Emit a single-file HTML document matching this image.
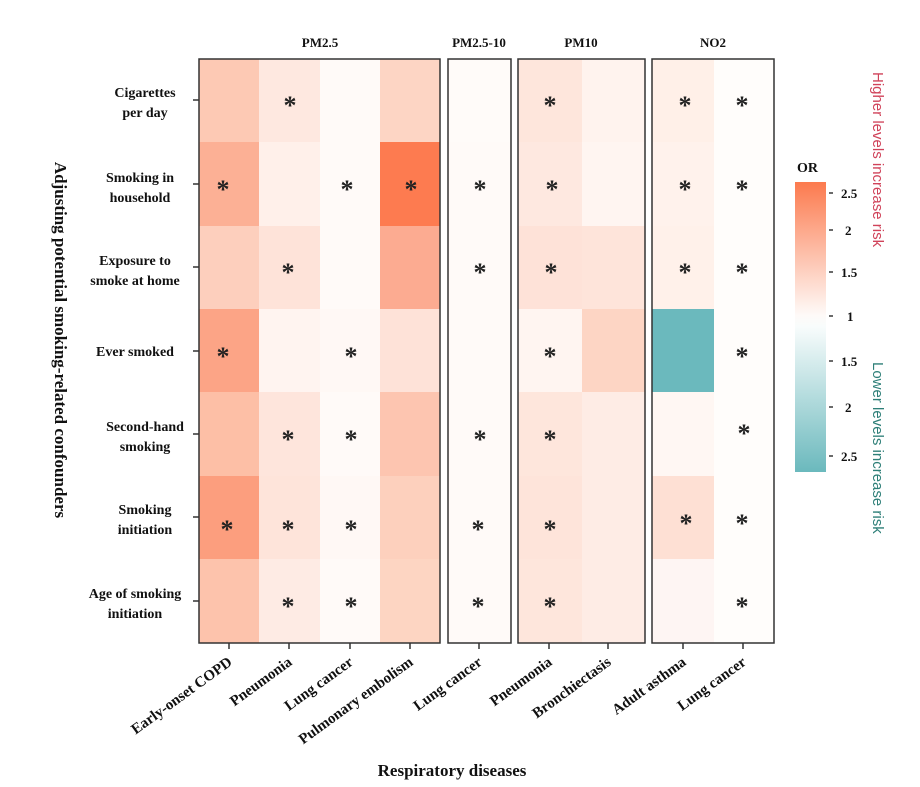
<!DOCTYPE html>
<html><head><meta charset="utf-8"><style>body{margin:0;background:#fff}svg{display:block}</style></head>
<body>
<svg width="920" height="787" xmlns="http://www.w3.org/2000/svg" font-family="Liberation Serif, serif" font-weight="bold">
<defs>
<linearGradient id="cb" x1="0" y1="0" x2="0" y2="1">
<stop offset="0" stop-color="#fc7a4e"/><stop offset="0.46" stop-color="#fefaf8"/><stop offset="0.5" stop-color="#f8fcfc"/><stop offset="1" stop-color="#6bb9bd"/>
</linearGradient>
</defs>
<rect x="199" y="59" width="60" height="83" fill="#fdc9b4"/><rect x="259" y="59" width="61" height="83" fill="#fee8e0"/><rect x="320" y="59" width="60" height="83" fill="#fffaf8"/><rect x="380" y="59" width="60" height="83" fill="#fdd5c4"/><rect x="448" y="59" width="63" height="83" fill="#fffbf9"/><rect x="518" y="59" width="64" height="83" fill="#fee6dc"/><rect x="582" y="59" width="63" height="83" fill="#fff3ee"/><rect x="652" y="59" width="62" height="83" fill="#fff0e8"/><rect x="714" y="59" width="60" height="83" fill="#fffdfb"/>
<rect x="199" y="142" width="60" height="84" fill="#fcb095"/><rect x="259" y="142" width="61" height="84" fill="#fff0ea"/><rect x="320" y="142" width="60" height="84" fill="#fffaf8"/><rect x="380" y="142" width="60" height="84" fill="#fd7b50"/><rect x="448" y="142" width="63" height="84" fill="#fffaf8"/><rect x="518" y="142" width="64" height="84" fill="#fee8e0"/><rect x="582" y="142" width="63" height="84" fill="#fff5f1"/><rect x="652" y="142" width="62" height="84" fill="#fff2ec"/><rect x="714" y="142" width="60" height="84" fill="#fffdfb"/>
<rect x="199" y="226" width="60" height="83" fill="#fdcfbd"/><rect x="259" y="226" width="61" height="83" fill="#fee3d9"/><rect x="320" y="226" width="60" height="83" fill="#fffaf8"/><rect x="380" y="226" width="60" height="83" fill="#fcab91"/><rect x="448" y="226" width="63" height="83" fill="#fffaf8"/><rect x="518" y="226" width="64" height="83" fill="#fee2d8"/><rect x="582" y="226" width="63" height="83" fill="#fee4da"/><rect x="652" y="226" width="62" height="83" fill="#fff1ea"/><rect x="714" y="226" width="60" height="83" fill="#fffdfb"/>
<rect x="199" y="309" width="60" height="83" fill="#fca486"/><rect x="259" y="309" width="61" height="83" fill="#fff4f0"/><rect x="320" y="309" width="60" height="83" fill="#fff8f5"/><rect x="380" y="309" width="60" height="83" fill="#fee2d8"/><rect x="448" y="309" width="63" height="83" fill="#fffaf8"/><rect x="518" y="309" width="64" height="83" fill="#fff5f1"/><rect x="582" y="309" width="63" height="83" fill="#fdd5c4"/><rect x="652" y="309" width="62" height="83" fill="#6bb9bd"/><rect x="714" y="309" width="60" height="83" fill="#fffdfb"/>
<rect x="199" y="392" width="60" height="84" fill="#fdbfa6"/><rect x="259" y="392" width="61" height="84" fill="#fee5dc"/><rect x="320" y="392" width="60" height="84" fill="#fffaf8"/><rect x="380" y="392" width="60" height="84" fill="#fdc5b0"/><rect x="448" y="392" width="63" height="84" fill="#fffaf8"/><rect x="518" y="392" width="64" height="84" fill="#fee6dc"/><rect x="582" y="392" width="63" height="84" fill="#feece5"/><rect x="652" y="392" width="62" height="84" fill="#fff7f3"/><rect x="714" y="392" width="60" height="84" fill="#fffdfb"/>
<rect x="199" y="476" width="60" height="83" fill="#fc9e7e"/><rect x="259" y="476" width="61" height="83" fill="#fee4da"/><rect x="320" y="476" width="60" height="83" fill="#fff8f5"/><rect x="380" y="476" width="60" height="83" fill="#fdd0bd"/><rect x="448" y="476" width="63" height="83" fill="#fffaf8"/><rect x="518" y="476" width="64" height="83" fill="#fee4da"/><rect x="582" y="476" width="63" height="83" fill="#feece5"/><rect x="652" y="476" width="62" height="83" fill="#fee0d4"/><rect x="714" y="476" width="60" height="83" fill="#fffdfb"/>
<rect x="199" y="559" width="60" height="84" fill="#fdc3ac"/><rect x="259" y="559" width="61" height="84" fill="#feebe4"/><rect x="320" y="559" width="60" height="84" fill="#fffaf8"/><rect x="380" y="559" width="60" height="84" fill="#fdd5c2"/><rect x="448" y="559" width="63" height="84" fill="#fffaf8"/><rect x="518" y="559" width="64" height="84" fill="#fee6dc"/><rect x="582" y="559" width="63" height="84" fill="#feece5"/><rect x="652" y="559" width="62" height="84" fill="#fef5f3"/><rect x="714" y="559" width="60" height="84" fill="#fffdfb"/>

<g font-size="26" text-anchor="middle" fill="#222">
<text x="290" y="114">*</text><text x="550" y="114">*</text><text x="685" y="114">*</text><text x="742" y="114">*</text>
<text x="223" y="198">*</text><text x="347" y="198">*</text><text x="411" y="198">*</text><text x="480" y="198">*</text><text x="552" y="198">*</text><text x="685" y="198">*</text><text x="742" y="198">*</text>
<text x="288" y="281">*</text><text x="480" y="281">*</text><text x="551" y="281">*</text><text x="685" y="281">*</text><text x="742" y="281">*</text>
<text x="223" y="365">*</text><text x="351" y="365">*</text><text x="550" y="365">*</text><text x="742" y="365">*</text>
<text x="288" y="448">*</text><text x="351" y="448">*</text><text x="480" y="448">*</text><text x="550" y="448">*</text><text x="744" y="442">*</text>
<text x="227" y="538">*</text><text x="288" y="538">*</text><text x="351" y="538">*</text><text x="478" y="538">*</text><text x="550" y="538">*</text><text x="686" y="532">*</text><text x="742" y="532">*</text>
<text x="288" y="615">*</text><text x="351" y="615">*</text><text x="478" y="615">*</text><text x="550" y="615">*</text><text x="742" y="615">*</text>
</g>

<g fill="none" stroke="#333" stroke-width="1.5">
<rect x="199" y="59" width="241" height="584"/>
<rect x="448" y="59" width="63" height="584"/>
<rect x="518" y="59" width="127" height="584"/>
<rect x="652" y="59" width="122" height="584"/>
<path d="M193 100h6M193 184h6M193 267h6M193 351h6M193 434h6M193 517h6M193 601h6"/>
<path d="M229 643v6M289 643v6M350 643v6M410 643v6M479 643v6M549 643v6M608 643v6M683 643v6M743 643v6"/>
</g>
<g font-size="13" text-anchor="middle" fill="#111">
<text x="320" y="47">PM2.5</text><text x="479" y="47">PM2.5-10</text><text x="581" y="47">PM10</text><text x="713" y="47">NO2</text>
</g>
<g font-size="14" text-anchor="middle" fill="#111">
<text x="145" y="97">Cigarettes</text><text x="145" y="117">per day</text>
<text x="140" y="182">Smoking in</text><text x="140" y="202">household</text>
<text x="135" y="265">Exposure to</text><text x="135" y="285">smoke at home</text>
<text x="135" y="356">Ever smoked</text>
<text x="145" y="431">Second-hand</text><text x="145" y="451">smoking</text>
<text x="145" y="514">Smoking</text><text x="145" y="534">initiation</text>
<text x="135" y="598">Age of smoking</text><text x="135" y="618">initiation</text>
</g>
<text transform="translate(55,340) rotate(90)" font-size="17" text-anchor="middle" fill="#111">Adjusting potential smoking-related confounders</text>
<g font-size="15" text-anchor="end" fill="#111">
<text transform="translate(233,664) rotate(-36)">Early-onset COPD</text>
<text transform="translate(293,664) rotate(-36)">Pneumonia</text>
<text transform="translate(354,664) rotate(-36)">Lung cancer</text>
<text transform="translate(414,664) rotate(-36)">Pulmonary embolism</text>
<text transform="translate(483,664) rotate(-36)">Lung cancer</text>
<text transform="translate(553,664) rotate(-36)">Pneumonia</text>
<text transform="translate(612,664) rotate(-36)">Bronchiectasis</text>
<text transform="translate(687,664) rotate(-36)">Adult asthma</text>
<text transform="translate(747,664) rotate(-36)">Lung cancer</text>
</g>
<text x="452" y="776" font-size="17" text-anchor="middle" fill="#111">Respiratory diseases</text>
<text x="797" y="172" font-size="14" fill="#111">OR</text>
<rect x="795" y="182" width="31" height="290" fill="url(#cb)"/>
<g stroke="#111" stroke-width="1.3"><path d="M829 193h4M829 230h4M829 272h4M829 316h4M829 361h4M829 407h4M829 456h4"/></g>
<g font-size="13" fill="#111">
<text x="841" y="198">2.5</text><text x="845" y="235">2</text><text x="841" y="277">1.5</text><text x="847" y="321">1</text><text x="841" y="366">1.5</text><text x="845" y="412">2</text><text x="841" y="461">2.5</text>
</g>
<g font-family="Liberation Sans, sans-serif" font-weight="normal" font-size="15">
<text transform="translate(873,72) rotate(90)" fill="#d0435a">Higher levels increase risk</text>
<text transform="translate(873,362) rotate(90)" fill="#2e7f78">Lower levels increase risk</text>
</g>
</svg>
</body></html>
